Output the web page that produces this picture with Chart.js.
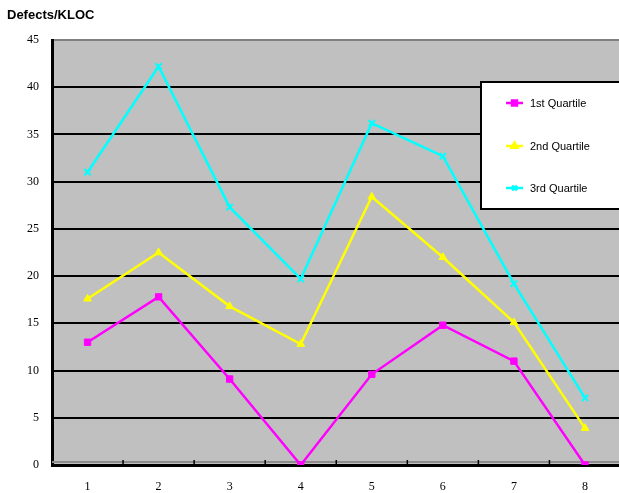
<!DOCTYPE html>
<html>
<head>
<meta charset="utf-8">
<script src="https://cdn.jsdelivr.net/npm/chart.js@4"></script>
<style>
  html, body { margin: 0; padding: 0; background: #fff; }
  #clip { width: 619px; height: 493px; overflow: hidden; position: relative; }
  #wrap { width: 627px; height: 493px; }
</style>
</head>
<body>
<div id="clip"><div id="wrap"><canvas id="c"></canvas></div></div>
<script>
const categories = ['1', '2', '3', '4', '5', '6', '7', '8'];
const firstQuartile  = [13.0, 17.8, 9.1, 0.0, 9.6, 14.8, 11.0, 0.0];
const secondQuartile = [17.6, 22.5, 16.8, 12.8, 28.4, 22.0, 15.1, 3.9];
const thirdQuartile  = [31.0, 42.2, 27.3, 19.7, 36.2, 32.7, 19.2, 7.1];
const seriesNames = ['1st Quartile', '2nd Quartile', '3rd Quartile'];
const yTicks = [0, 5, 10, 15, 20, 25, 30, 35, 40, 45];

const serif = '"Liberation Serif", "Times New Roman", serif';
const sans = '"Liberation Sans", Arial, sans-serif';

function series(label, data, color, style) {
  return {
    label, data,
    borderColor: color, backgroundColor: color,
    borderWidth: 2.5,
    pointStyle: style, pointRadius: 4.5, pointBorderWidth: style === 'crossRot' ? 2 : 1,
    pointHoverRadius: 4.5, tension: 0
  };
}

// gray plot background, tick marks on the category axis and the boxed legend
const decor = {
  id: 'decor',
  beforeDraw(chart) {
    const { ctx, chartArea: a } = chart;
    ctx.save();
    ctx.fillStyle = '#c0c0c0';
    ctx.fillRect(a.left, a.top, a.right - a.left + 10, a.bottom - a.top);
    ctx.restore();
  },
  beforeDatasetsDraw(chart) {
    const { ctx, chartArea: a, scales } = chart;
    const x = scales.x;
    ctx.save();
    // light rule just above the category axis
    ctx.strokeStyle = '#8c8c8c';
    ctx.lineWidth = 2;
    ctx.beginPath();
    ctx.moveTo(a.left, a.bottom - 3);
    ctx.lineTo(a.right + 10, a.bottom - 3);
    ctx.stroke();
    // category boundary ticks, pointing into the plot
    ctx.strokeStyle = '#000';
    ctx.lineWidth = 1.5;
    for (let i = 0; i < categories.length - 1; i++) {
      const px = (x.getPixelForValue(i) + x.getPixelForValue(i + 1)) / 2;
      ctx.beginPath();
      ctx.moveTo(px, a.bottom);
      ctx.lineTo(px, a.bottom - 5);
      ctx.stroke();
    }
    ctx.restore();
  },
  afterDraw(chart) {
    const { ctx } = chart;
    ctx.save();
    // axis title
    ctx.fillStyle = '#000';
    ctx.font = 'bold 13px ' + sans;
    ctx.textBaseline = 'middle';
    ctx.textAlign = 'left';
    ctx.fillText('Defects/KLOC', 7, 15);
    // legend box
    const bx = 481, by = 82, bw = 160, bh = 127;
    ctx.fillStyle = '#fff';
    ctx.fillRect(bx, by, bw, bh);
    ctx.strokeStyle = '#000';
    ctx.lineWidth = 2;
    ctx.strokeRect(bx, by, bw, bh);
    const rows = [103, 146, 188];
    chart.data.datasets.forEach((ds, i) => {
      const y = rows[i];
      ctx.strokeStyle = ds.borderColor;
      ctx.lineWidth = 2.5;
      ctx.beginPath();
      ctx.moveTo(506, y);
      ctx.lineTo(523, y);
      ctx.stroke();
      ctx.fillStyle = ds.backgroundColor;
      ctx.strokeStyle = ds.borderColor;
      Chart.helpers.drawPoint(ctx, {
        pointStyle: ds.pointStyle, radius: 3.5, borderWidth: ds.pointBorderWidth
      }, 514.5, y);
      ctx.fillStyle = '#000';
      ctx.font = '11px ' + sans;
      ctx.textAlign = 'left';
      ctx.textBaseline = 'middle';
      ctx.fillText(ds.label, 530, y + 1);
    });
    ctx.restore();
  }
};

new Chart(document.getElementById('c'), {
  type: 'line',
  data: {
    labels: categories,
    datasets: [
      series(seriesNames[0], firstQuartile, '#ff00ff', 'rect'),
      series(seriesNames[1], secondQuartile, '#ffff00', 'triangle'),
      series(seriesNames[2], thirdQuartile, '#00ffff', 'crossRot')
    ]
  },
  options: {
    responsive: true,
    maintainAspectRatio: false,
    animation: false,
    layout: { padding: { top: 40, right: 0, left: 0, bottom: 0 } },
    plugins: { legend: { display: false }, tooltip: { enabled: false } },
    scales: {
      x: {
        offset: true,
        grid: { display: false, drawTicks: false },
        border: { color: '#000', width: 3 },
        ticks: { color: '#000', font: { family: serif, size: 12 }, padding: 15 },
        afterFit(s) { s.height = 28; }
      },
      y: {
        min: 0, max: 45,
        afterBuildTicks(s) { s.ticks = yTicks.map(v => ({ value: v })); },
        grid: {
          drawTicks: false,
          color: c => (c.tick && (c.tick.value === 45 || c.tick.value === 0)) ? '#808080' : '#000',
          lineWidth: 2
        },
        border: { color: '#000', width: 3 },
        ticks: { color: '#000', font: { family: serif, size: 12 }, padding: 13 },
        afterFit(s) { s.width = 52; }
      }
    }
  },
  plugins: [decor]
});
</script>
</body>
</html>
